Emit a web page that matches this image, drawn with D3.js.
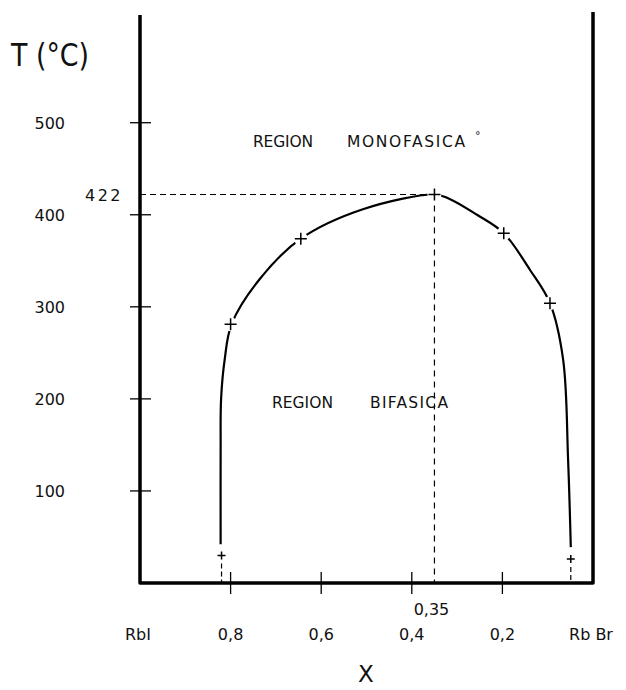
<!DOCTYPE html>
<html>
<head>
<meta charset="utf-8">
<script src="https://cdn.jsdelivr.net/npm/d3@7"></script>
<style>
  html, body { margin: 0; padding: 0; background: #fff; }
  text { font-family: "DejaVu Sans", sans-serif; fill: #111; }
</style>
</head>
<body>
<div id="vis"></div>
<script>
const W = 626;
const H = 690;

// temperature ticks (°C)
const tempTicks = [100, 200, 300, 400, 500];
// composition ticks (mole fraction)
const xTicks = [0.8, 0.6, 0.4, 0.2];
const xTickLabels = ["0,8", "0,6", "0,4", "0,2"];
const endLabels = ["RbI", "Rb Br"];

// measured points (crosses)
const pointX = [0.82, 0.8, 0.645, 0.35, 0.197, 0.095, 0.049];
const pointT = [30, 281, 374, 422, 380, 304, 26];

// boundary curve
const curveX = [0.822, 0.822, 0.821, 0.813, 0.798, 0.736, 0.645, 0.508, 0.35, 0.32, 0.256, 0.197, 0.139, 0.095, 0.066, 0.055, 0.049];
const curveT = [42, 145, 200, 243, 281, 330, 374, 406, 422, 418, 400, 380, 340, 304, 243, 134, 39];

// critical point
const critX = 0.35;
const critT = 422;

const x = d3.scaleLinear().domain([1, 0]).range([140, 593]);
const y = d3.scaleLinear().domain([0, 617]).range([583, 15]);

const svg = d3
  .select("#vis")
  .append("svg")
  .attr("width", W)
  .attr("height", H);

// frame: left, bottom and right axes
svg
  .append("path")
  .attr("d", `M${x(1)},${y(617)} V${y(0)} H${x(0)} V${y(617) - 3}`)
  .attr("fill", "none")
  .attr("stroke", "#000")
  .attr("stroke-width", 3.5)
  .attr("stroke-linejoin", "round");

// y ticks cross the axis
svg
  .selectAll(".ytick")
  .data(tempTicks)
  .join("line")
  .attr("class", "ytick")
  .attr("x1", x(1) - 10)
  .attr("x2", x(1) + 11)
  .attr("y1", (d) => y(d))
  .attr("y2", (d) => y(d))
  .attr("stroke", "#000")
  .attr("stroke-width", 1.3);

svg
  .selectAll(".ylab")
  .data(tempTicks)
  .join("text")
  .attr("class", "ylab")
  .attr("x", 65)
  .attr("y", (d) => y(d) + 6)
  .attr("text-anchor", "end")
  .attr("font-size", 16)
  .text((d) => d);

// x ticks
svg
  .selectAll(".xtick")
  .data(xTicks)
  .join("line")
  .attr("class", "xtick")
  .attr("x1", (d) => x(d))
  .attr("x2", (d) => x(d))
  .attr("y1", y(0) - 11)
  .attr("y2", y(0) + 11)
  .attr("stroke", "#000")
  .attr("stroke-width", 1.3);

svg
  .selectAll(".xlab")
  .data(xTicks)
  .join("text")
  .attr("class", "xlab")
  .attr("x", (d) => x(d))
  .attr("y", 640)
  .attr("text-anchor", "middle")
  .attr("font-size", 16)
  .text((d, i) => xTickLabels[i]);

svg
  .selectAll(".endlab")
  .data([1, 0])
  .join("text")
  .attr("class", "endlab")
  .attr("x", (d) => x(d) - 2)
  .attr("y", 640)
  .attr("text-anchor", "middle")
  .attr("font-size", 16)
  .text((d, i) => endLabels[i]);

// axis titles
svg
  .append("text")
  .attr("x", 11)
  .attr("y", 66)
  .attr("font-size", 32)
  .attr("textLength", 78)
  .attr("lengthAdjust", "spacingAndGlyphs")
  .text("T (°C)");

svg
  .append("text")
  .attr("x", 366)
  .attr("y", 682)
  .attr("text-anchor", "middle")
  .attr("font-size", 23)
  .text("X");

// dashed guides to the critical point
svg
  .append("line")
  .attr("x1", x(1))
  .attr("x2", x(critX))
  .attr("y1", y(critT))
  .attr("y2", y(critT))
  .attr("stroke", "#000")
  .attr("stroke-width", 1.2)
  .attr("stroke-dasharray", "6,4");

svg
  .append("line")
  .attr("x1", x(critX))
  .attr("x2", x(critX))
  .attr("y1", y(critT))
  .attr("y2", y(0))
  .attr("stroke", "#000")
  .attr("stroke-width", 1.2)
  .attr("stroke-dasharray", "6,5");

svg
  .append("text")
  .attr("x", 123)
  .attr("y", y(critT) + 6)
  .attr("text-anchor", "end")
  .attr("font-size", 16)
  .attr("letter-spacing", 2.5)
  .text(critT);

svg
  .append("text")
  .attr("x", x(critX) - 3)
  .attr("y", 615)
  .attr("text-anchor", "middle")
  .attr("font-size", 16)
  .text("0,35");

// short dashed drops from the lowest points to the axis
svg
  .selectAll(".drop")
  .data([0, pointX.length - 1])
  .join("line")
  .attr("class", "drop")
  .attr("x1", (i) => x(pointX[i]))
  .attr("x2", (i) => x(pointX[i]))
  .attr("y1", (i) => y(pointT[i]) + 8)
  .attr("y2", y(0))
  .attr("stroke", "#000")
  .attr("stroke-width", 1.2)
  .attr("stroke-dasharray", "5,3");

// boundary curve
const line = d3
  .line()
  .x((d) => x(d[0]))
  .y((d) => y(d[1]))
  .curve(d3.curveCatmullRom.alpha(0.5));

svg
  .append("path")
  .datum(d3.zip(curveX, curveT))
  .attr("d", line)
  .attr("fill", "none")
  .attr("stroke", "#000")
  .attr("stroke-width", 2.2);

// small gaps in the curve around each cross
const pts = d3.zip(pointX, pointT);
svg
  .selectAll(".gap")
  .data(pts.slice(1, -1))
  .join("circle")
  .attr("class", "gap")
  .attr("cx", (d) => x(d[0]))
  .attr("cy", (d) => y(d[1]))
  .attr("r", 7)
  .attr("fill", "#fff");

svg
  .selectAll(".cross")
  .data(pts)
  .join("path")
  .attr("class", "cross")
  .attr("d", (d, i) => {
    const s = i === 0 || i === pts.length - 1 ? 4 : 6;
    const cx = x(d[0]);
    const cy = y(d[1]);
    return `M${cx - s},${cy} H${cx + s} M${cx},${cy - s} V${cy + s}`;
  })
  .attr("stroke", "#000")
  .attr("stroke-width", 1.5);

// region labels
svg
  .append("text")
  .attr("x", 253)
  .attr("y", 147)
  .attr("font-size", 15.5)
  .attr("textLength", 60)
  .text("REGION");

svg
  .append("text")
  .attr("x", 347)
  .attr("y", 147)
  .attr("font-size", 15.5)
  .attr("textLength", 118)
  .text("MONOFASICA");

svg
  .append("text")
  .attr("x", 475)
  .attr("y", 139)
  .attr("font-size", 11)
  .text("°");

svg
  .append("text")
  .attr("x", 272)
  .attr("y", 408)
  .attr("font-size", 15.5)
  .attr("textLength", 61)
  .text("REGION");

svg
  .append("text")
  .attr("x", 370)
  .attr("y", 408)
  .attr("font-size", 15.5)
  .attr("textLength", 78)
  .text("BIFASICA");
</script>
</body>
</html>
